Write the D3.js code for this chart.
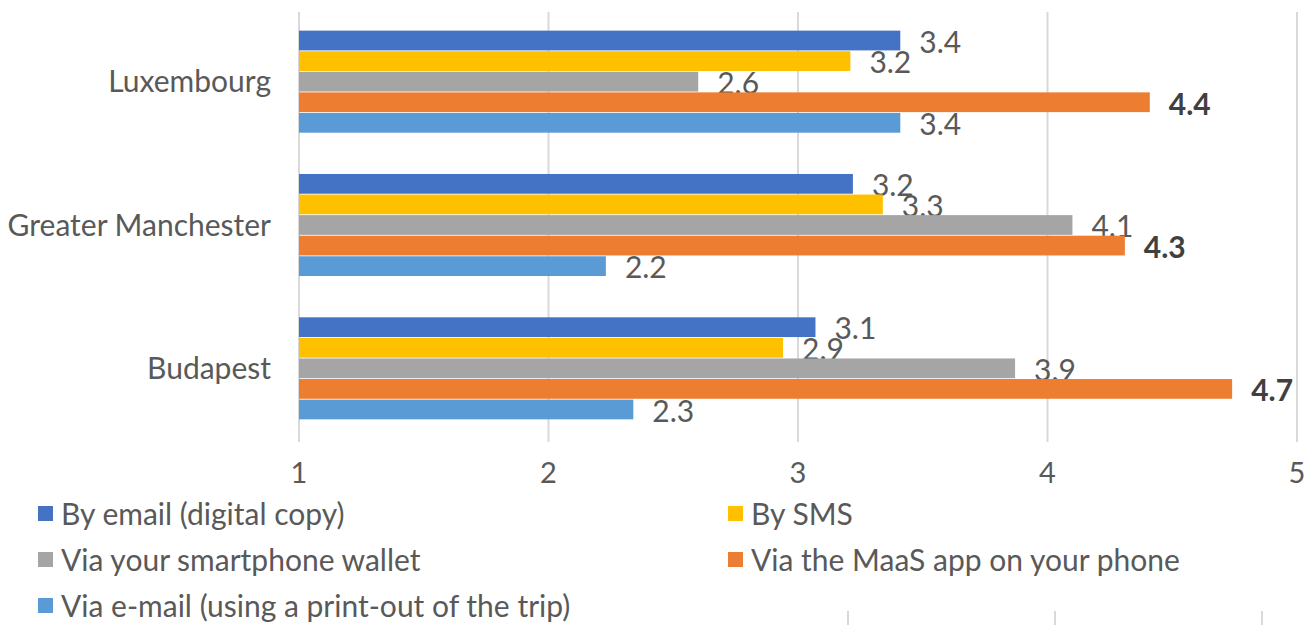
<!DOCTYPE html>
<html>
<head>
<meta charset="utf-8">
<script src="https://cdn.jsdelivr.net/npm/d3@7"></script>
<style>
  html, body { margin: 0; padding: 0; background: #fff; }
  svg { display: block; font-family: Lato, "Open Sans", sans-serif; }
</style>
</head>
<body>
<svg id="chart" width="1307" height="625"></svg>
<script>
const CATEGORIES = ['Luxembourg', 'Greater Manchester', 'Budapest'];
const SERIES_NAMES = [
  'By email (digital copy)',
  'By SMS',
  'Via your smartphone wallet',
  'Via the MaaS app on your phone',
  'Via e-mail (using a print-out of the trip)',
];
// one array per series, in CATEGORIES order
const BY_EMAIL = [3.41, 3.22, 3.07];
const BY_SMS = [3.21, 3.34, 2.94];
const WALLET = [2.60, 4.10, 3.87];
const MAAS_APP = [4.41, 4.31, 4.74];
const PRINT_OUT = [3.41, 2.23, 2.34];
const X_TICKS = [1, 2, 3, 4, 5];
// gridline stubs of the next chart that peek in at the bottom edge
const CROP_STUBS = [0, 1, 2];

const SERIES_VALUES = [BY_EMAIL, BY_SMS, WALLET, MAAS_APP, PRINT_OUT];
const COLORS = ['#4472C4', '#FFC000', '#A5A5A5', '#ED7D31', '#5B9BD5'];
const BOLD_SERIES = 3;

const PLOT = {left: 299, right: 1297, top: 12, bottom: 442};
const FONT_SIZE = 30;
const TEXT_COLOR = '#595959';
const GRID_COLOR = '#D9D9D9';

const svg = d3.select('#chart');

const x = d3.scaleLinear().domain([1, 5]).range([PLOT.left, PLOT.right]);
const y = d3.scaleBand()
    .domain(CATEGORIES)
    .range([PLOT.top - 2, PLOT.bottom - 2])
    .paddingInner(0.288)
    .paddingOuter(0.144);
const ySub = d3.scaleBand()
    .domain(d3.range(SERIES_NAMES.length))
    .range([0, y.bandwidth()])
    .paddingInner(0.04);

// vertical gridlines
svg.append('g')
    .selectAll('line')
    .data(X_TICKS)
    .join('line')
    .attr('x1', d => x(d))
    .attr('x2', d => x(d))
    .attr('y1', PLOT.top)
    .attr('y2', PLOT.bottom)
    .attr('stroke', GRID_COLOR)
    .attr('stroke-width', 2);

// x tick labels
svg.append('g')
    .selectAll('text')
    .data(X_TICKS)
    .join('text')
    .attr('x', d => x(d))
    .attr('y', 483)
    .attr('text-anchor', 'middle')
    .attr('font-size', FONT_SIZE - 1)
    .attr('fill', TEXT_COLOR)
    .text(d => d);

// category labels
svg.append('g')
    .selectAll('text')
    .data(CATEGORIES)
    .join('text')
    .attr('x', 271)
    .attr('y', d => y(d) + y.bandwidth() / 2)
    .attr('dy', '0.35em')
    .attr('text-anchor', 'end')
    .attr('font-size', FONT_SIZE)
    .attr('fill', TEXT_COLOR)
    .text(d => d);

// bars, grouped by category
const rows = [];
CATEGORIES.forEach((cat, ci) => {
  SERIES_VALUES.forEach((vals, si) => {
    rows.push({cat, series: si, value: vals[ci]});
  });
});

const groups = svg.append('g')
    .selectAll('g')
    .data(rows)
    .join('g')
    .attr('transform', d => `translate(0, ${y(d.cat) + ySub(d.series)})`);

groups.append('rect')
    .attr('x', x(1))
    .attr('y', 0)
    .attr('width', d => x(d.value) - x(1))
    .attr('height', ySub.bandwidth())
    .attr('fill', d => COLORS[d.series]);

// value labels
groups.append('text')
    .attr('x', d => x(d.value) + 19)
    .attr('y', ySub.bandwidth() / 2 + 1.5)
    .attr('dy', '0.36em')
    .attr('font-size', FONT_SIZE)
    .attr('font-weight', d => d.series === BOLD_SERIES ? 'bold' : 'normal')
    .attr('fill', d => d.series === BOLD_SERIES ? '#404040' : TEXT_COLOR)
    .text(d => d3.format('.1f')(d.value));

// legend, two columns
const legend = svg.append('g')
    .selectAll('g')
    .data(SERIES_NAMES)
    .join('g')
    .attr('transform', (d, i) =>
        `translate(${i % 2 === 0 ? 38 : 728}, ${514 + Math.floor(i / 2) * 46})`);

legend.append('rect')
    .attr('x', 0)
    .attr('y', -8)
    .attr('width', 15)
    .attr('height', 15)
    .attr('fill', (d, i) => COLORS[i]);

legend.append('text')
    .attr('x', 23)
    .attr('y', 0)
    .attr('dy', '0.35em')
    .attr('font-size', FONT_SIZE)
    .attr('fill', TEXT_COLOR)
    .text(d => d);

// stubs at the bottom edge
const stubX = d3.scaleLinear().domain([0, 2]).range([848, 1262]);
svg.append('g')
    .selectAll('line')
    .data(CROP_STUBS)
    .join('line')
    .attr('x1', d => stubX(d))
    .attr('x2', d => stubX(d))
    .attr('y1', 611)
    .attr('y2', 625)
    .attr('stroke', GRID_COLOR)
    .attr('stroke-width', 2);
</script>
</body>
</html>
